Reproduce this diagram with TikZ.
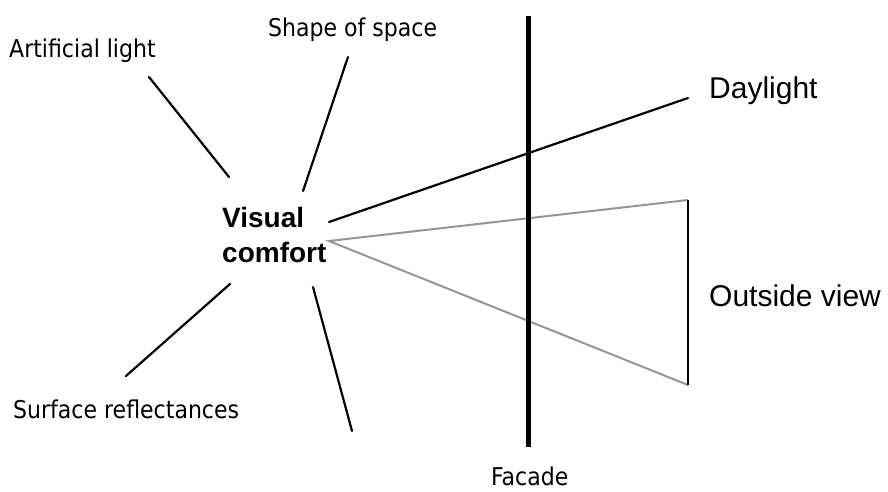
\documentclass[tikz,border=0pt]{standalone}
\usepackage{fontspec}
\setmainfont{Liberation Sans}
\newfontfamily\tahfont{DejaVu Sans Condensed}
\begin{document}
\begin{tikzpicture}[x=1pt,y=-1pt,
  tahlabel/.style={anchor=base west,inner sep=0pt,font=\tahfont\fontsize{24.5}{28}\selectfont},
  arllabel/.style={anchor=base west,inner sep=0pt,font=\fontsize{30}{34}\selectfont},
  spoke/.style={line width=2.2pt,line cap=round},
  viewline/.style={line width=2pt,draw={rgb,255:red,150;green,150;blue,150}},
  facadeline/.style={line width=5pt}]
\useasboundingbox (0,0) rectangle (888,491);
% labels
\node[tahlabel] (art) at (9,57) {Artificial light};
\node[tahlabel] (shape) at (268,36) {Shape of space};
\node[tahlabel] (surf) at (13,418) {Surface reflectances};
\node[tahlabel] (fac) at (491,485) {Facade};
\node[arllabel] (day) at (709,98) {Daylight};
\node[arllabel] (out) at (709,306) {Outside view};
\node[anchor=base west,inner sep=0pt,align=left,font=\bfseries\fontsize{28}{35}\selectfont] (vc) at (222,262) {Visual\\comfort};
% coordinates
\coordinate (a1) at (149,77);   \coordinate (a2) at (229,177);
\coordinate (s1) at (348,57);   \coordinate (s2) at (303,191);
\coordinate (r1) at (230,284);  \coordinate (r2) at (126,376);
\coordinate (b1) at (313,287);  \coordinate (b2) at (352,431);
\coordinate (d1) at (329,222);  \coordinate (d2) at (688,98);
\coordinate (eye) at (329,241);
\coordinate (vt) at (688,200);  \coordinate (vb) at (688,385);
\coordinate (ft) at (528,16);   \coordinate (fb) at (528,447);
% view cone
\draw[viewline] (vt) -- (eye) -- (vb);
\draw[line width=2pt] (vt) -- (vb);
% facade
\draw[facadeline] (ft) -- (fb);
% spokes
\draw[spoke] (a1) -- (a2);
\draw[spoke] (s1) -- (s2);
\draw[spoke] (r1) -- (r2);
\draw[spoke] (b1) -- (b2);
\draw[spoke] (d1) -- (d2);
\end{tikzpicture}
\end{document}
